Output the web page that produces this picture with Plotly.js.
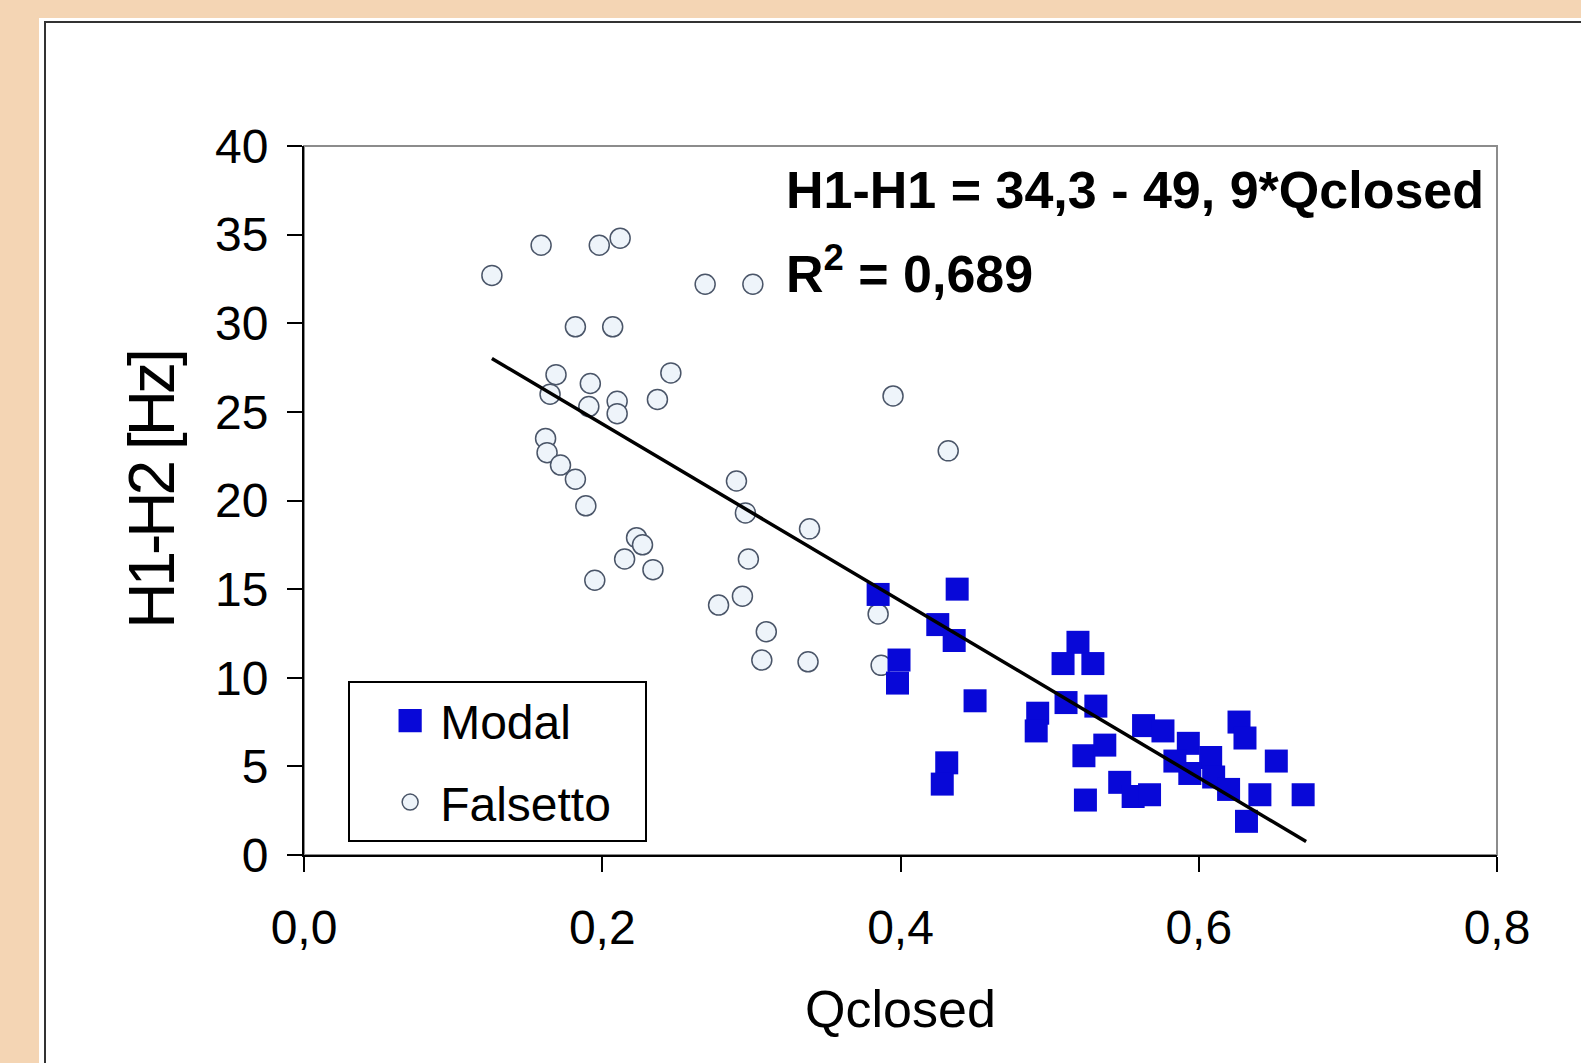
<!DOCTYPE html>
<html><head><meta charset="utf-8">
<script src="https://cdn.plot.ly/plotly-3.0.1.min.js"></script>
<style>
html,body{margin:0;padding:0;background:#F4D5B4;width:1581px;height:1063px;overflow:hidden;}
#panel{position:absolute;left:39px;top:18px;width:1560px;height:1060px;background:#fff;}
#frame{position:absolute;left:44px;top:21px;width:1560px;height:1060px;border-left:2.5px solid #333;border-top:2.5px solid #333;}
#chart{position:absolute;left:0;top:0;width:1581px;height:1063px;}
text.ytitle{letter-spacing:-4px;}
</style></head><body>
<div id="panel"></div><div id="frame"></div><div id="chart"></div>
<script>
// Falsetto (open circles)
const falsettoX = [0.126,0.159,0.198,0.212,0.269,0.301,0.182,0.207,0.169,0.246,0.165,0.192,0.191,0.210,0.210,0.237,0.162,0.163,0.172,0.182,0.189,0.290,0.296,0.339,0.223,0.227,0.215,0.234,0.195,0.298,0.294,0.278,0.310,0.307,0.338,0.385,0.387,0.395,0.432];
const falsettoY = [32.7,34.4,34.4,34.8,32.2,32.2,29.8,29.8,27.1,27.2,26.0,26.6,25.3,25.6,24.9,25.7,23.5,22.7,22.0,21.2,19.7,21.1,19.3,18.4,17.9,17.5,16.7,16.1,15.5,16.7,14.6,14.1,12.6,11.0,10.9,13.6,10.7,25.9,22.8];
// Modal (filled squares)
const modalX = [0.385,0.438,0.425,0.436,0.399,0.398,0.450,0.519,0.509,0.529,0.511,0.531,0.492,0.491,0.431,0.428,0.523,0.537,0.524,0.547,0.556,0.567,0.563,0.576,0.593,0.584,0.608,0.594,0.610,0.620,0.627,0.631,0.632,0.641,0.652,0.670];
const modalY = [14.7,15.0,13.0,12.1,11.0,9.7,8.7,12.0,10.8,10.8,8.6,8.4,8.0,7.0,5.2,4.0,5.6,6.2,3.1,4.1,3.3,3.4,7.3,7.0,6.3,5.3,5.5,4.6,4.4,3.7,7.5,6.6,1.9,3.4,5.3,3.4];
// Regression line: H1-H2 = 34.3 - 49.9 * Qclosed
const fitIntercept = 34.3;
const fitSlope = -49.9;
const fitXRange = [0.126, 0.672];
const fitY = fitXRange.map(x => fitIntercept + fitSlope * x);

const xTicks = [0, 0.2, 0.4, 0.6, 0.8];
const yTicks = [0, 5, 10, 15, 20, 25, 30, 35, 40];

const FONT = 'Liberation Sans, Arial, sans-serif';

const traces = [
  {x: falsettoX, y: falsettoY, type: 'scatter', mode: 'markers', name: 'Falsetto', legendrank: 2, legendgroup: 'f',
   marker: {symbol: 'circle', size: 20, color: '#eef4fa', line: {color: '#4a5568', width: 1.5}}},
  {x: modalX, y: modalY, type: 'scatter', mode: 'markers', name: 'Modal', legendrank: 1, legendgroup: 'm',
   marker: {symbol: 'square', size: 23, color: '#0808d8', line: {width: 0}}},
  {x: fitXRange, y: fitY, type: 'scatter', mode: 'lines', showlegend: false, hoverinfo: 'skip',
   line: {color: '#000', width: 3.5}}
];

const layout = {
  width: 1581, height: 1063,
  margin: {l: 304, r: 84, t: 146, b: 208},
  paper_bgcolor: 'rgba(0,0,0,0)',
  plot_bgcolor: '#fff',
  separators: ',.',
  font: {family: FONT, color: '#000'},
  xaxis: {
    range: [0, 0.8], tickvals: xTicks, tickformat: '.1f',
    ticks: 'outside', ticklen: 15, tickwidth: 2, tickcolor: '#000',
    showline: true, linecolor: '#000', linewidth: 2,
    showgrid: false, zeroline: false,
    tickfont: {size: 48, family: FONT, color: '#000'},
    ticklabelstandoff: 14,
    title: {text: 'Qclosed', font: {size: 52, family: FONT, color: '#000'}, standoff: 38}
  },
  yaxis: {
    range: [0, 40], tickvals: yTicks,
    ticks: 'outside', ticklen: 15, tickwidth: 2, tickcolor: '#000',
    showline: true, linecolor: '#000', linewidth: 2,
    showgrid: false, zeroline: false,
    tickfont: {size: 48, family: FONT, color: '#000'},
    ticklabelstandoff: 9,
    title: {text: 'H1-H2 [Hz]', font: {size: 64, family: FONT, color: '#000'}, standoff: 20}
  },
  shapes: [
    {type: 'rect', xref: 'paper', yref: 'paper', x0: 0, x1: 1, y0: 0, y1: 1,
     line: {color: '#8c8c8c', width: 2}, layer: 'below'}
  ],
  annotations: [
    {xref: 'x', yref: 'y', x: 0.322, y: 37.5, xanchor: 'left', yanchor: 'middle', showarrow: false,
     text: '<b>H1-H1 = 34,3 - 49, 9*Qclosed</b>', font: {size: 52, family: FONT, color: '#000'}},
    {xref: 'x', yref: 'y', x: 0.322, y: 33.0, xanchor: 'left', yanchor: 'middle', showarrow: false,
     text: '<b>R<sup>2</sup> = 0,689</b>', font: {size: 52, family: FONT, color: '#000'}}
  ],
  legend: {
    x: 0.037, y: 0.2454, xanchor: 'left', yanchor: 'top',
    bgcolor: '#fff', bordercolor: '#000', borderwidth: 2,
    font: {size: 48, family: FONT, color: '#000'},
    itemsizing: 'trace', itemwidth: 80, tracegroupgap: 16
  },
  showlegend: true
};

Plotly.newPlot('chart', traces, layout, {displayModeBar: false, staticPlot: true}).then(gd => {
  // legend fine-tuning: symbol position/size and box padding as in the reference
  gd.querySelectorAll('.legend .traces').forEach(t => {
    const label = t.querySelector('text.legendtext');
    const isModal = label && label.textContent.trim() === 'Modal';
    t.querySelectorAll('.legendpoints path.scatterpts').forEach(p => {
      const tr = p.getAttribute('transform') || '';
      p.setAttribute('transform', 'translate(15,0) ' + tr + (isModal ? ' scale(1.45)' : ''));
    });
  });
  const bg = gd.querySelector('.legend rect.bg');
  if (bg) bg.setAttribute('width', parseFloat(bg.getAttribute('width')) + 29);
  const yt = gd.querySelector('.g-ytitle');
  if (yt) yt.setAttribute('transform', 'translate(0,-10)');
});
</script>
</body></html>
